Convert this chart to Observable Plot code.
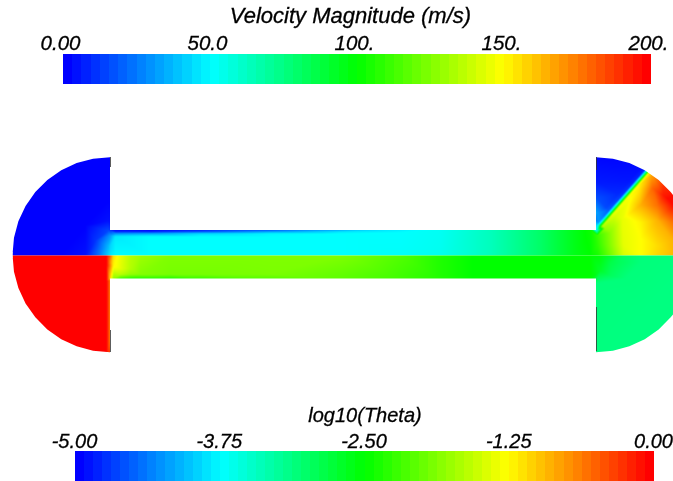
<!DOCTYPE html>
<html>
<head>
<meta charset="utf-8">
<script src="https://cdn.jsdelivr.net/npm/d3@7"></script>
<script src="https://cdn.jsdelivr.net/npm/@observablehq/plot@0.6"></script>
<style>
html,body{margin:0;padding:0;background:#fff;overflow:hidden}
svg{display:block;filter:blur(0.45px)}
svg text{stroke:#000;stroke-width:0.3px}
</style>
</head>
<body>
<script>
// ---- colour bars ----
const rainbow = ["#0000ff", "#00ffff", "#00ff00", "#ffff00", "#ff0000"];
const bandIndex = [0,1,2,3,4,5,6,7,8,9,10,11,12,13,14,15,16,17,18,19,20,21,22,23,24,25,26,27,28,29,30,31,
  32,33,34,35,36,37,38,39,40,41,42,43,44,45,46,47,48,49,50,51,52,53,54,55,56,57,58,59,60,61,62,63];
const velocityTitle = "Velocity Magnitude (m/s)";
const velocityTicks = [0, 50, 100, 150, 200];
const velocityLabels = ["0.00", "50.0", "100.", "150.", "200."];
const thetaTitle = "log10(Theta)";
const thetaTicks = [-5, -3.75, -2.5, -1.25, 0];
const thetaLabels = ["-5.00", "-3.75", "-2.50", "-1.25", "0.00"];

// ---- velocity magnitude samples, upper half: [x, y, m/s] ----
const velocityLeftLobe = [
  [0,150,0],[110,150,0],[0,255,0],[60,255,0],[85,255,3],[98,255,22],[108,255,42],[60,200,0],
  [108,200,0],[108,220,3],[85,225,0],[95,240,10],[100,250,24],[108,230,14],[108,245,36]
];
const velocityChannel = [
  [110,230,10],[110,235,30],[110,245,42],[110,255,46],
  [115,229,2],[115,231,6],[115,233,28],[115,236,46],[115,255,50],
  [150,229,0],[150,231,5],[150,233,32],[150,236,50],[150,255,50],
  [200,229,4],[200,231,14],[200,233,42],[200,236,50],[200,255,50],
  [270,229,12],[270,231,30],[270,233,48],[270,236,50],[270,255,50],
  [340,229,30],[340,231,44],[340,233,50],[340,255,50],
  [400,229,46],[400,232,50],[400,255,51],
  [440,229,52],[440,255,53],[490,229,63],[490,255,63],[540,229,80],[540,255,80],
  [573,229,95],[573,255,95]
];
const velocityRightLobe = [
  [590,229,102],[590,255,100],[597,235,110],[597,245,108],[597,255,104],
  [607,245,122],[607,255,118],[610,232,128],[623,245,145],[623,255,142],
  [640,238,150],[640,255,150],[657,245,157],[657,255,158],[673,240,165],[673,222,178],[673,252,164],[673,255,164],
  [622,218,146],[640,222,152],[657,220,165],[640,205,165],[657,205,178],[667,198,198],[673,205,198],
  [652,188,180],[663,195,195],[690,190,198],[690,255,165]
];
const velocityBlueWedge = [
  [596,150,0],[640,150,0],[597,182,5],[597,198,15],[597,212,30],[597,225,46],[596,230,52],[590,150,0],[590,228,40]
];
// shock: sample rows parallel to the oblique stripe leaving the right-hand corner
const shockStart = [597, 229];
const shockEnd = [647, 172];
const shockAlong = [6, 22, 40, 58, 76, 92];
const shockAcross = [-8, -4, -2.2, -0.6, 1.4, 5];
const shockValues = [
  [24, 14, 8, 4, 2, 0],
  [30, 18, 12, 8, 6, 4],
  [50, 50, 50, 48, 46, 44],
  [95, 95, 95, 95, 95, 95],
  [135, 145, 148, 150, 152, 155],
  [130, 142, 148, 155, 168, 178]
];

// ---- log10(Theta) samples, lower half: [x, y, log10] ----
const thetaLeftLobe = [
  [0,255,0],[106,255,0],[0,360,0],[106,360,0],[60,300,0],[106,280,0],[106,265,0]
];
const thetaInlet = [
  [110,255,-0.5],[110,262,-0.75],[110,278,-1.1],[113,255,-1.1],[113,265,-1.2],[113,278,-1.8],
  [120,255,-1.35],[120,268,-1.38],[120,274,-1.6],[120,279,-2.3],[130,255,-1.6],[130,268,-1.62],[130,274,-1.78],[130,279,-2.45]
];
const thetaChannel = [
  [140,255,-1.72],[140,274,-1.85],[140,279,-2.45],
  [170,255,-1.875],[170,274,-1.92],[170,279,-2.45],
  [200,255,-1.875],[200,274,-1.92],[200,279,-2.3],
  [270,255,-1.875],[270,274,-1.9],[270,279,-2.125],
  [340,255,-1.875],[340,279,-2.05],
  [400,255,-2.1],[400,279,-2.2],
  [440,255,-2.35],[440,279,-2.35],
  [473,255,-2.5],[473,279,-2.5],
  [590,255,-2.5],[590,279,-2.5]
];
const thetaRightLobe = [
  [600,255,-2.55],[600,270,-2.7],[596,283,-3.1],[610,262,-2.85],[610,275,-2.95],
  [620,262,-2.95],[625,255,-3.0],[640,262,-3.1],[640,255,-3.1],[625,278,-3.1],
  [596,360,-3.125],[690,255,-3.125],[690,360,-3.125],[640,310,-3.125]
];

// ---- outline of the geometry, in picture units ----
const topEdgeX = [0,12.5,12.5,13.98,18.38,25.56,35.31,47.33,61.25,76.65,93.07,110,110,596,596,612.93,629.35,644.75,658.67,670.69,673];
const topEdgeY = [258,258,254.7,237.77,221.35,205.95,192.03,180.01,170.26,163.08,158.68,157.2,230,230,157.2,158.68,163.08,170.26,180.01,192.03,194.9];
const bottomEdgeY = [252,252,254.7,271.63,288.05,303.45,317.37,329.39,339.14,346.32,350.72,352.2,278.5,278.5,352.2,350.72,346.32,339.14,329.39,317.37,314.5];
const edgeRuleX = [110, 110, 596, 596];
const edgeRuleY1 = [157, 330, 157, 307];
const edgeRuleY2 = [167, 352, 170, 351];

// ---- build ----
const colorScale = {type: "linear", domain: velocityTicks, range: rainbow};

const [sx, sy] = shockStart, [ex, ey] = shockEnd;
const sl = Math.hypot(ex - sx, ey - sy), ux = (ex - sx) / sl, uy = (ey - sy) / sl;
const shockSamples = shockAcross.flatMap((c, r) => shockAlong.map((a, i) =>
  [sx + a * ux - c * uy, sy + a * uy + c * ux, shockValues[r][i]]));

const velocitySamples = [...velocityLeftLobe, ...velocityChannel, ...velocityRightLobe, ...velocityBlueWedge, ...shockSamples];
const thetaSamples = [...thetaLeftLobe, ...thetaInlet, ...thetaChannel, ...thetaRightLobe];
const outline = topEdgeX.map((x, i) => ({x, top: topEdgeY[i], bottom: bottomEdgeY[i]}));
const font = "'Liberation Sans', Arial, sans-serif";

function colorbar({domain, ticks, labels, title, titleX, titleSize, tickSize, ml, mr, h, mt, mb, titleDy, tickDx, tickPad}) {
  const [d0, d1] = [domain[0], domain[1]];
  const n = bandIndex.length;
  const bands = bandIndex.map(i => ({
    x1: d0 + (d1 - d0) * i / n,
    x2: d0 + (d1 - d0) * (i + 1) / n,
    v: i * 200 / (n - 1)
  }));
  return Plot.plot({
    width: 673, height: h, marginLeft: ml, marginRight: mr, marginTop: mt, marginBottom: mb,
    style: {fontFamily: font, background: "transparent", color: "#000"},
    x: {domain: domain, axis: null},
    color: colorScale,
    marks: [
      Plot.rect(bands, {x1: "x1", x2: "x2", fill: "v", shapeRendering: "crispEdges"}),
      Plot.axisX(ticks, {anchor: "top", tickSize: 0, tickPadding: tickPad, label: null, fontSize: tickSize, fontStyle: "italic",
        dx: tickDx, tickFormat: (d) => labels[ticks.indexOf(d)]}),
      Plot.text([title], {x: () => titleX, frameAnchor: "top", dy: titleDy, text: d => d, fontSize: titleSize, fontStyle: "italic", fill: "#000"})
    ]
  });
}

const topBar = colorbar({domain: [0, 200], ticks: velocityTicks, labels: velocityLabels, title: velocityTitle, titleX: 97.6,
  titleSize: 22, tickSize: 20.5, ml: 63, mr: 22, h: 90, mt: 54, mb: 6, titleDy: -47, tickDx: -3, tickPad: 5});

const field = Plot.plot({
  width: 673, height: 310, margin: 0,
  style: {fontFamily: font, background: "transparent"},
  x: {domain: [0, 673], axis: null},
  y: {domain: [90, 400], range: [0, 310], axis: null},
  color: colorScale,
  marks: [
    Plot.raster(velocitySamples, {x: d => d[0], y: d => d[1], fill: d => d[2], x1: 0, x2: 673, y1: 150, y2: 255,
      interpolate: "barycentric", imageRendering: "auto"}),
    Plot.raster(thetaSamples, {x: d => d[0], y: d => d[1], fill: d => (d[2] + 5) * 40, x1: 0, x2: 673, y1: 255, y2: 360,
      interpolate: "barycentric", imageRendering: "auto"}),
    Plot.areaY(outline, {x: "x", y1: () => 90, y2: "top", fill: "#fff"}),
    Plot.areaY(outline, {x: "x", y1: "bottom", y2: () => 400, fill: "#fff"}),
    Plot.ruleX(edgeRuleX, {x: d => d, y1: (d, i) => edgeRuleY1[i], y2: (d, i) => edgeRuleY2[i], stroke: "#333", strokeWidth: 0.8})
  ]
});

const bottomBar = colorbar({domain: [-5, 0], ticks: thetaTicks, labels: thetaLabels, title: thetaTitle, titleX: -2.5,
  titleSize: 20, tickSize: 20, ml: 75, mr: 19, h: 81, mt: 51, mb: 0, titleDy: -44, tickDx: -1, tickPad: 4});

document.body.append(topBar, field, bottomBar);
</script>
</body>
</html>
